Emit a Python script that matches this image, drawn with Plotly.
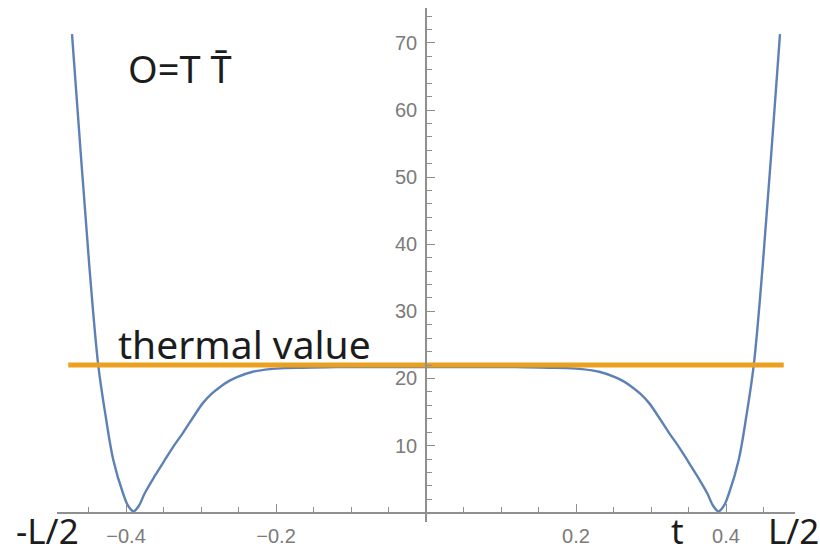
import plotly.graph_objects as go

# ---- data ----
t_vals = [-0.472, -0.460, -0.449, -0.437, -0.427, -0.417, -0.404, -0.397, -0.390,
          -0.383, -0.375, -0.362, -0.348, -0.336, -0.324, -0.310, -0.297, -0.286,
          -0.275, -0.263, -0.252, -0.231, -0.208, -0.186, -0.164, -0.119, -0.060, 0.0,
          0.060, 0.119, 0.164, 0.186, 0.208, 0.231, 0.252, 0.263, 0.275, 0.286,
          0.297, 0.310, 0.324, 0.336, 0.348, 0.362, 0.375, 0.383, 0.390, 0.397,
          0.404, 0.417, 0.427, 0.437, 0.449, 0.460, 0.472]
O_vals = [71.3, 53.0, 36.9, 22.0, 14.3, 7.9, 2.9, 1.0, 0.2,
          1.0, 2.9, 5.4, 7.9, 10.0, 11.9, 14.3, 16.4, 17.7,
          18.7, 19.6, 20.2, 21.0, 21.4, 21.55, 21.6, 21.7, 21.7, 21.7,
          21.7, 21.7, 21.6, 21.55, 21.4, 21.0, 20.2, 19.6, 18.7, 17.7,
          16.4, 14.3, 11.9, 10.0, 7.9, 5.4, 2.9, 1.0, 0.2, 1.0,
          2.9, 7.9, 14.3, 22.0, 36.9, 53.0, 71.3]
thermal_t = [-0.477, 0.477]
thermal_value = [22.0, 22.0]

x_major = [-0.4, -0.2, 0.2, 0.4]
x_major_text = ["\u22120.4", "\u22120.2", "0.2", "0.4"]
x_minor = [-0.45, -0.35, -0.3, -0.25, -0.15, -0.1, -0.05, 0.05, 0.1, 0.15,
           0.25, 0.3, 0.35, 0.45]
y_major = [10, 20, 30, 40, 50, 60, 70]
y_minor = [v for v in range(2, 76, 2) if v % 10 != 0]

W, H = 820, 553
axis_col = "#8f8f8f"
label_col = "#7b7b7b"
text_col = "#1c1c1c"

fig = go.Figure()
fig.add_trace(go.Scatter(x=t_vals, y=O_vals, mode="lines",
                         line=dict(color="#5E81B5", width=2.4, shape="spline", smoothing=1.0),
                         hoverinfo="skip", showlegend=False))
fig.add_trace(go.Scatter(x=thermal_t, y=thermal_value, mode="lines",
                         line=dict(color="#ECA11E", width=5),
                         hoverinfo="skip", showlegend=False))

fig.update_layout(
    width=W, height=H,
    margin=dict(l=0, r=0, t=0, b=0),
    paper_bgcolor="white", plot_bgcolor="white",
    xaxis=dict(domain=[57 / W, 795 / W], range=[-0.492, 0.492],
               anchor="free", position=(H - 512.7) / H,
               showgrid=False, zeroline=False,
               showline=True, linecolor=axis_col, linewidth=1.5,
               tickmode="array", tickvals=x_major, ticktext=x_major_text,
               ticks="inside", ticklen=8, tickwidth=1.3, tickcolor=axis_col,
               tickfont=dict(family="Liberation Sans, Arial", size=20, color=label_col),
               ticklabelstandoff=6,
               minor=dict(tickmode="array", tickvals=x_minor, ticks="inside",
                          ticklen=5, tickwidth=1.2, tickcolor=axis_col)),
    yaxis=dict(domain=[(H - 522) / H, (H - 8) / H], range=[-1.386, 75.2],
               anchor="free", position=426 / W,
               showgrid=False, zeroline=False,
               showline=True, linecolor=axis_col, linewidth=1.5,
               tickmode="array", tickvals=y_major,
               ticks="inside", ticklen=8, tickwidth=1.3, tickcolor=axis_col,
               tickfont=dict(family="Liberation Sans, Arial", size=20, color=label_col),
               ticklabelstandoff=4,
               minor=dict(tickmode="array", tickvals=y_minor, ticks="inside",
                          ticklen=5, tickwidth=1.2, tickcolor=axis_col)),
)

def px_text(txt, x_px, y_px, size, xanchor="left"):
    fig.add_annotation(text=txt, x=x_px / W, y=(H - y_px) / H, xref="paper", yref="paper",
                       xanchor=xanchor, yanchor="middle", showarrow=False,
                       font=dict(family="Noto Sans, Liberation Sans", size=size, color=text_col))

px_text("O=T T\u0304", 126, 68, 38)
px_text("thermal value", 116, 343, 39)
px_text("-L/2", 14, 530, 35)
px_text("t", 677, 530, 35, xanchor="center")
px_text("L/2", 766, 530, 35)

fig.write_html("out.html",
               config={"displayModeBar": False},
               post_script="document.body.style.margin='0';document.body.style.padding='0';"
                           "document.documentElement.style.overflow='hidden';")
